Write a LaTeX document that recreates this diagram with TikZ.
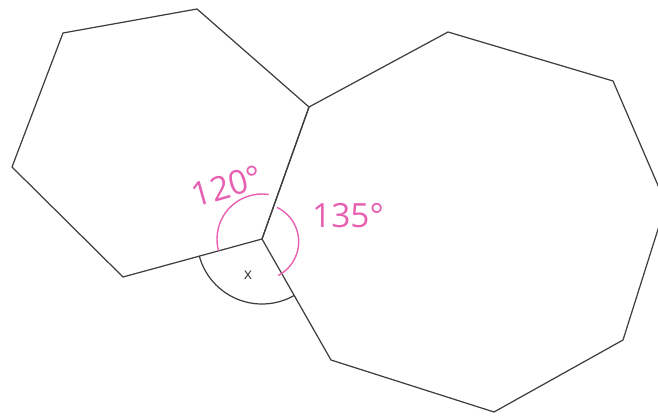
\documentclass[tikz,border=0pt]{standalone}
\usepackage{fontspec}
\usepackage{xcolor}
\newfontfamily\penfont{Open Sans}
\definecolor{ink}{RGB}{62,62,62}
\definecolor{pen}{RGB}{232,96,178}

\begin{document}
\begin{tikzpicture}[
    x=0.02cm, y=0.02cm,
    edge/.style={draw=ink, line width=0.7pt, line join=round},
    penarc/.style={draw=pen, line width=0.8pt, line cap=round},
    anglelabel/.style={text=pen, font=\penfont\fontsize{19}{23}\selectfont, inner sep=0pt},
    unknown/.style={text=ink, font=\penfont\small, inner sep=0pt}
]

% Frame
\useasboundingbox (0,0) rectangle (658,416);
\clip (0,0) rectangle (658,416);

% Hexagon corners
\coordinate (h1) at (63,383);
\coordinate (h2) at (197,407);
\coordinate (h3) at (309,309);
\coordinate (h4) at (262,177);
\coordinate (h5) at (123,139);
\coordinate (h6) at (12,249);

% Octagon corners (shares h3--h4)
\coordinate (o3) at (448,384);
\coordinate (o4) at (613,335);
\coordinate (o5) at (666,212);
\coordinate (o6) at (623,76);
\coordinate (o7) at (494,4);
\coordinate (o8) at (331,56);

% Polygons
\draw[edge] (h1) -- (h2) -- (h3) -- (h4) -- (h5) -- (h6) -- cycle;
\draw[edge] (h4) -- (h3) -- (o3) -- (o4) -- (o5) -- (o6) -- (o7) -- (o8) -- cycle;

% Angle x
\draw[edge] ([shift={(195:65)}]h4) arc[start angle=195, end angle=300, radius=65];
\node[unknown] (xlbl) at (248,141) {x};

% Marked angles
\draw[penarc] ([shift={(195:45)}]h4) arc[start angle=195, end angle=82, radius=45];
\draw[penarc] ([shift={(64:35)}]h4) arc[start angle=64, end angle=-62, radius=38];

\node[anglelabel, rotate=16] (hexangle) at (227,230) {120°};
\node[anglelabel] (octangle) at (348,200) {135°};

\end{tikzpicture}
\end{document}
